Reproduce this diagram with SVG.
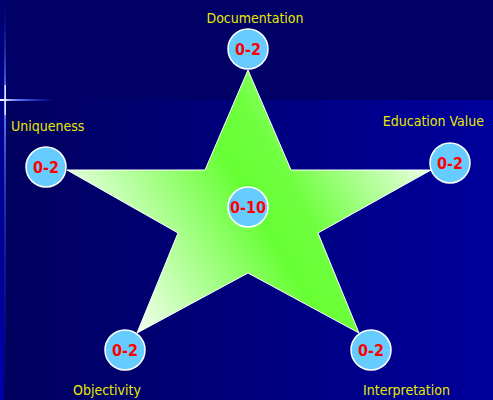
<svg xmlns="http://www.w3.org/2000/svg" width="493" height="400" viewBox="0 0 493 400">
<defs>
<linearGradient id="bgLow" x1="0" y1="0" x2="1" y2="0">
<stop offset="0" stop-color="#00005e"/>
<stop offset="1" stop-color="#00009c"/>
</linearGradient>
<linearGradient id="edge" x1="0" y1="0" x2="0" y2="1">
<stop offset="0" stop-color="#000070"/>
<stop offset="0.3" stop-color="#00008a"/>
<stop offset="1" stop-color="#0000a8"/>
</linearGradient>
<linearGradient id="vline" x1="0" y1="0" x2="0" y2="1">
<stop offset="0" stop-color="#0030c0" stop-opacity="0"/>
<stop offset="0.25" stop-color="#6080ff"/>
<stop offset="0.5" stop-color="#3050e0" stop-opacity="0.6"/>
<stop offset="1" stop-color="#0020c0" stop-opacity="0"/>
</linearGradient>
<linearGradient id="hline" x1="0" y1="0" x2="1" y2="0">
<stop offset="0" stop-color="#ffffff"/>
<stop offset="0.3" stop-color="#6080ff"/>
<stop offset="1" stop-color="#2040ff" stop-opacity="0"/>
</linearGradient>
<linearGradient id="starFill" gradientUnits="userSpaceOnUse" x1="125" y1="340" x2="435" y2="160">
<stop offset="0" stop-color="#ffffff"/>
<stop offset="0.5" stop-color="#66ff33"/>
<stop offset="0.62" stop-color="#70ff40"/>
<stop offset="1" stop-color="#f4fff0"/>
</linearGradient>
<style>
.node circle { fill: #66ccff; stroke: #ffffff; stroke-width: 1.5; }
.num { font-family: "DejaVu Sans Condensed", "DejaVu Sans", sans-serif; font-weight: bold; font-size: 16px; fill: #ff0000; text-anchor: middle; }
.lbl { font-family: "DejaVu Sans Condensed", "DejaVu Sans", sans-serif; font-size: 14px; fill: #e8e800; }
</style>
</defs>
<rect x="0" y="0" width="493" height="400" fill="#000066"/>
<rect x="0" y="100" width="493" height="300" fill="url(#bgLow)"/>
<rect x="0" y="0" width="4" height="400" fill="url(#edge)"/>
<rect x="4" y="0" width="2" height="400" fill="url(#vline)"/>
<rect x="0" y="99" width="55" height="2" fill="url(#hline)"/>
<rect x="4.5" y="85" width="1.5" height="30" fill="#ffffff" opacity="0.8"/>

<g id="connectors">
<polygon points="248,70 291,170 431,170 318,233 359,333 248,273 137,333 178,233 67,170 205,170" fill="url(#starFill)" stroke="#ffffff" stroke-width="1"/>
</g>

<g id="documentation" class="node">
<circle cx="248" cy="49" r="20"/>
<text class="num" x="248" y="55">0-2</text>
<text class="lbl" x="255" y="23" text-anchor="middle">Documentation</text>
</g>
<g id="uniqueness" class="node">
<circle cx="46" cy="167" r="20"/>
<text class="num" x="46" y="173">0-2</text>
<text class="lbl" x="11" y="131">Uniqueness</text>
</g>
<g id="education-value" class="node">
<circle cx="450" cy="163" r="20"/>
<text class="num" x="450" y="169">0-2</text>
<text class="lbl" x="484" y="126" text-anchor="end">Education Value</text>
</g>
<g id="objectivity" class="node">
<circle cx="125" cy="350" r="20"/>
<text class="num" x="125" y="356">0-2</text>
<text class="lbl" x="73" y="395">Objectivity</text>
</g>
<g id="interpretation" class="node">
<circle cx="371" cy="350" r="20"/>
<text class="num" x="371" y="356">0-2</text>
<text class="lbl" x="363" y="395">Interpretation</text>
</g>
<g id="total" class="node">
<circle cx="248" cy="207" r="20"/>
<text class="num" x="248" y="213">0-10</text>
</g>
</svg>
